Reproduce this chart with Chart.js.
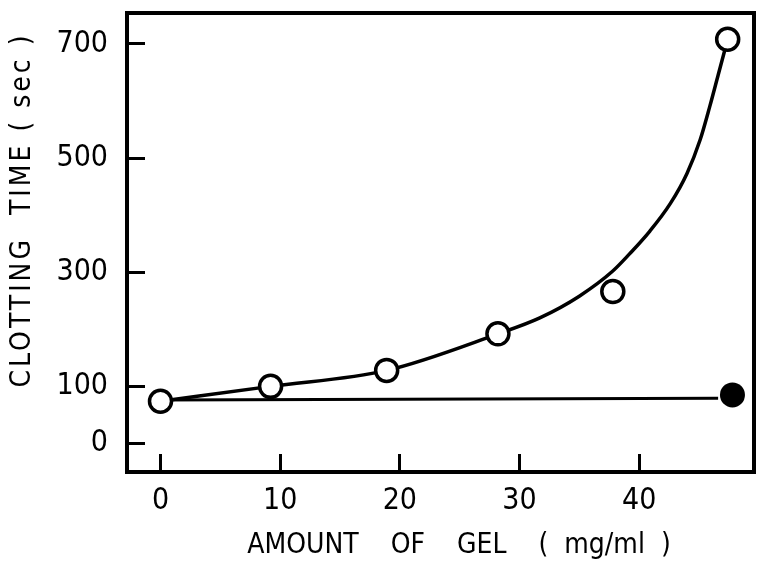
<!DOCTYPE html>
<html>
<head>
<meta charset="utf-8">
<script src="https://cdn.jsdelivr.net/npm/chart.js@4.4.0/dist/chart.umd.min.js"></script>
<style>
  html, body { margin: 0; padding: 0; background: #fff; overflow: hidden; }
  #wrap { width: 757px; height: 573px; }
</style>
</head>
<body>
<div id="wrap"><canvas id="clotChart"></canvas></div>
<script>
// clotting time against amount of gel added
const gelAmount = [0, 9.2, 18.9, 28.2, 37.8, 47.4];
const clotTime  = [74, 100, 128, 192, 266, 708];

// hand-fitted curve through the open circles
const curveX = [0, 9.2, 18.9, 28.2, 31.7, 35.0, 37.8, 39.2, 40.9, 42.6, 44.0, 45.1, 45.9, 46.6, 47.4];
const curveY = [74, 100, 128, 192, 220, 258, 302, 332, 372, 420, 473, 532, 590, 645, 708];

// control (no gel) baseline and its closed point
const controlX = [0, 46.6];
const controlY = [76, 79];
const closedX = [47.8];
const closedY = [85];

const xTicks = [0, 10, 20, 30, 40];
const yTicks = [0, 100, 300, 500, 700];

const xTitle = 'AMOUNT    OF    GEL    (  mg/ml  )';
const yTitle = 'CLOTTING  TIME ( sec )';

const FONT = "'Liberation Sans Narrow', 'DejaVu Sans Condensed', sans-serif";

function pts(xs, ys) {
    return xs.map((x, i) => ({ x: x, y: ys[i] }));
}

// box round the plot area
const frame = {
    id: 'frame',
    beforeDatasetsDraw(chart) {
        const { ctx, chartArea: a } = chart;
        ctx.save();
        ctx.lineWidth = 4;
        ctx.strokeStyle = '#000';
        ctx.strokeRect(a.left, a.top, a.right - a.left, a.bottom - a.top);
        ctx.restore();
    }
};

// axis captions
const axisTitles = {
    id: 'axisTitles',
    afterDraw(chart) {
        const { ctx, chartArea: a } = chart;
        ctx.save();
        ctx.fillStyle = '#000';
        ctx.textAlign = 'center';
        ctx.textBaseline = 'middle';
        ctx.font = '28px ' + FONT;
        ctx.fillText(xTitle, a.left + 332, a.bottom + 74);
        ctx.letterSpacing = '3px';
        ctx.translate(23, a.top + 197);
        ctx.rotate(-Math.PI / 2);
        ctx.fillText(yTitle, 0, 0);
        ctx.restore();
    }
};

// keep the plot box where it is, whatever the labels need
function noPad(s) {
    s.paddingLeft = s.paddingRight = s.paddingTop = s.paddingBottom = 0;
}

const tickFont = { family: FONT, size: 30 };

new Chart(document.getElementById('clotChart'), {
    type: 'scatter',
    data: {
        datasets: [
            {
                data: pts(gelAmount, clotTime),
                pointRadius: 11,
                pointBorderWidth: 3.5,
                pointBorderColor: '#000',
                pointBackgroundColor: '#fff',
                showLine: false,
                order: 0
            },
            {
                data: pts(closedX, closedY),
                pointRadius: 12.5,
                pointBorderWidth: 0,
                pointBackgroundColor: '#000',
                showLine: false,
                order: 1
            },
            {
                data: pts(curveX, curveY),
                showLine: true,
                borderColor: '#000',
                borderWidth: 3.5,
                pointRadius: 0,
                cubicInterpolationMode: 'monotone',
                order: 2
            },
            {
                data: pts(controlX, controlY),
                showLine: true,
                borderColor: '#000',
                borderWidth: 3,
                pointRadius: 0,
                order: 3
            }
        ]
    },
    options: {
        responsive: true,
        maintainAspectRatio: false,
        animation: false,
        layout: { autoPadding: false, padding: { top: 13, right: 3, left: 0, bottom: 0 } },
        plugins: {
            legend: { display: false },
            tooltip: { enabled: false }
        },
        scales: {
            x: {
                type: 'linear',
                min: -2.8,
                max: 49.6,
                afterBuildTicks: s => { s.ticks = xTicks.map(v => ({ value: v })); },
                afterFit: s => { s.height = 101; noPad(s); },
                border: { display: false },
                grid: {
                    drawOnChartArea: false,
                    tickLength: -18,
                    tickWidth: 3,
                    tickColor: '#000'
                },
                ticks: { autoSkip: false, maxRotation: 0, padding: 29, color: '#000', font: tickFont }
            },
            y: {
                type: 'linear',
                min: -50,
                max: 754,
                afterBuildTicks: s => { s.ticks = yTicks.map(v => ({ value: v })); },
                afterFit: s => { s.width = 127; noPad(s); },
                border: { display: false },
                grid: {
                    drawOnChartArea: false,
                    tickLength: -18,
                    tickWidth: 3,
                    tickColor: '#000'
                },
                ticks: { autoSkip: false, padding: 37, color: '#000', font: tickFont }
            }
        }
    },
    plugins: [frame, axisTitles]
});
</script>
</body>
</html>
